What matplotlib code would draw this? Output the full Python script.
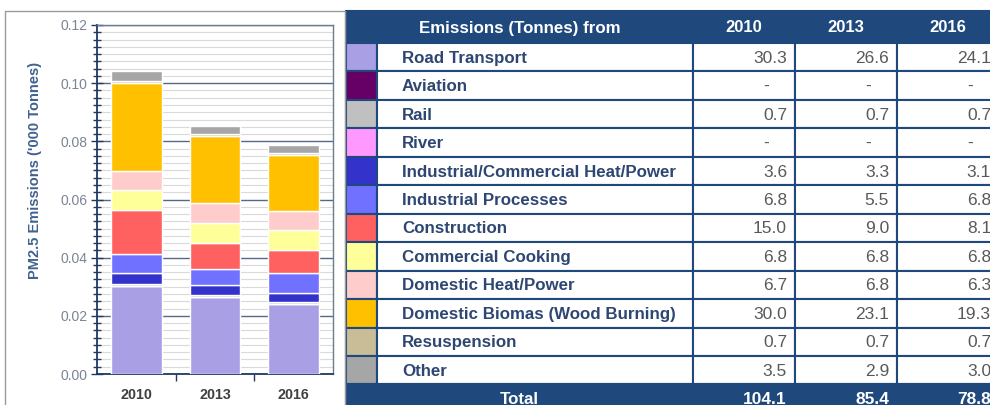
import numpy as np
import matplotlib
matplotlib.use("Agg")
import matplotlib.pyplot as plt
from matplotlib.patches import Rectangle
from matplotlib.ticker import MultipleLocator, FixedLocator, NullFormatter

plt.rcParams["font.family"] = ["Liberation Sans", "DejaVu Sans"]

# ── Data (tonnes; NaN shown as "-") ─────────────────────────────────────────
years = ["2010", "2013", "2016"]
sources = [
    "Road Transport",
    "Aviation",
    "Rail",
    "River",
    "Industrial/Commercial Heat/Power",
    "Industrial Processes",
    "Construction",
    "Commercial Cooking",
    "Domestic Heat/Power",
    "Domestic Biomas (Wood Burning)",
    "Resuspension",
    "Other",
]
road_transport = [30.3, 26.6, 24.1]
aviation = [np.nan, np.nan, np.nan]
rail = [0.7, 0.7, 0.7]
river = [np.nan, np.nan, np.nan]
ind_com_heat = [3.6, 3.3, 3.1]
ind_processes = [6.8, 5.5, 6.8]
construction = [15.0, 9.0, 8.1]
com_cooking = [6.8, 6.8, 6.8]
dom_heat = [6.7, 6.8, 6.3]
dom_biomass = [30.0, 23.1, 19.3]
resuspension = [0.7, 0.7, 0.7]
other = [3.5, 2.9, 3.0]
totals = [104.1, 85.4, 78.8]

colors = [
    "#A89FE4", "#660066", "#C0C0C0", "#FF99FF", "#3333CC", "#7171FF",
    "#FF6161", "#FFFF99", "#FFCCCC", "#FFC000", "#C9BD98", "#A6A6A6",
]

series = np.array([
    road_transport, aviation, rail, river, ind_com_heat, ind_processes,
    construction, com_cooking, dom_heat, dom_biomass, resuspension, other,
], dtype=float)

NAVY = "#1F497D"
LABEL = "#2E4672"
W, H = 990, 405

fig = plt.figure(figsize=(W / 100, H / 100), dpi=100)

# ── Table / frame layer in pixel coordinates ────────────────────────────────
bg = fig.add_axes([0, 0, 1, 1])
bg.set_xlim(0, W)
bg.set_ylim(H, 0)
bg.axis("off")

# left panel frame
bg.plot([5, 5, 345, 345], [420, 11, 11, 420], color="#9A9A9A", lw=1.0)

col_x = [346, 377, 693, 795, 897, 999]
top, head_h, row_h = 11, 32, 28.45
body_top = top + head_h
n = len(sources)

bg.add_patch(Rectangle((col_x[0], top), col_x[-1] - col_x[0], head_h,
                       facecolor=NAVY, edgecolor=NAVY, lw=1.5))
bg.text((col_x[0] + col_x[2]) / 2, top + head_h / 2 + 1, "Emissions (Tonnes) from",
        color="white", fontsize=12.2, fontweight="bold", ha="center", va="center")
for j, yr in enumerate(years):
    bg.text((col_x[2 + j] + col_x[3 + j]) / 2, top + head_h / 2 + 1, yr,
            color="white", fontsize=12, fontweight="bold", ha="center", va="center")

for i, name in enumerate(sources):
    y0 = body_top + i * row_h
    bg.add_patch(Rectangle((col_x[0], y0), col_x[1] - col_x[0], row_h,
                           facecolor=colors[i], edgecolor=NAVY, lw=1.5))
    for c in range(1, 5):
        bg.add_patch(Rectangle((col_x[c], y0), col_x[c + 1] - col_x[c], row_h,
                               facecolor="white", edgecolor=NAVY, lw=1.5))
    bg.text(col_x[1] + 25, y0 + row_h / 2 + 1, name, color=LABEL,
            fontsize=12.2, fontweight="bold", ha="left", va="center")
    for j in range(3):
        v = series[i, j]
        right = col_x[3 + j]
        if np.isnan(v):
            bg.text(right - 29, y0 + row_h / 2 + 1, "-", color="#595959",
                    fontsize=12.5, ha="center", va="center")
        else:
            bg.text(right - 8, y0 + row_h / 2 + 1, f"{v:.1f}", color="#595959",
                    fontsize=12.5, ha="right", va="center")

tot_y = body_top + n * row_h
bg.add_patch(Rectangle((col_x[0], tot_y), col_x[-1] - col_x[0], 40,
                       facecolor=NAVY, edgecolor=NAVY, lw=1.5))
bg.text((col_x[0] + col_x[2]) / 2, tot_y + row_h / 2 + 1, "Total",
        color="white", fontsize=12.2, fontweight="bold", ha="center", va="center")
for j, t in enumerate(totals):
    bg.text(col_x[3 + j] - 8, tot_y + row_h / 2 + 1, f"{t:.1f}",
            color="white", fontsize=12.5, fontweight="bold", ha="right", va="center")

# ── Stacked bar chart ───────────────────────────────────────────────────────
ax = fig.add_axes([97 / W, (H - 374) / H, 236 / W, (374 - 25) / H])
x = np.arange(len(years))
vals = np.nan_to_num(series) / 1000.0
bottom = np.zeros(len(years))
for i in range(n):
    ax.bar(x, vals[i], 0.64, bottom=bottom, color=colors[i],
           edgecolor="white", linewidth=1.0, zorder=3)
    bottom += vals[i]

ax.set_xlim(-0.5, 2.5)
ax.set_ylim(0, 0.12)
ax.yaxis.set_major_locator(MultipleLocator(0.02))
ax.yaxis.set_minor_locator(MultipleLocator(0.0025))
ax.yaxis.set_major_formatter(plt.FuncFormatter(lambda v, _: f"{v:.2f}"))
ax.grid(True, which="minor", axis="y", color="#DADADA", lw=0.8, zorder=0)
ax.grid(True, which="major", axis="y", color="#54698A", lw=1.0, zorder=1)

ax.xaxis.set_major_locator(FixedLocator([0.5, 1.5]))
ax.xaxis.set_major_formatter(NullFormatter())
ax.xaxis.set_minor_locator(FixedLocator(x))
ax.set_xticklabels(years, minor=True)
ax.tick_params(axis="x", which="major", direction="out", length=5,
               color="#1F3864", width=1)
ax.tick_params(axis="x", which="minor", length=0, pad=10, labelsize=10.3,
               labelcolor="#404040")
for lbl in ax.get_xticklabels(minor=True):
    lbl.set_fontweight("bold")
ax.tick_params(axis="y", which="major", direction="inout", length=8,
               color="#1F3864", width=1, labelsize=10, labelcolor="#7A8594", pad=3)
ax.tick_params(axis="y", which="minor", direction="inout", length=6,
               color="#1F3864", width=1)

for side in ("left", "bottom"):
    ax.spines[side].set_color("#1F3864")
    ax.spines[side].set_linewidth(1.3)
for side in ("top", "right"):
    ax.spines[side].set_color("#6E7B8B")
    ax.spines[side].set_linewidth(1.0)

fig.text(35 / W, 1 - 170 / H, "PM2.5 Emissions ('000 Tonnes)", rotation=90,
         ha="center", va="center", fontsize=10.5, fontweight="bold", color="#41628F")

fig.savefig("out.png", dpi=100)
